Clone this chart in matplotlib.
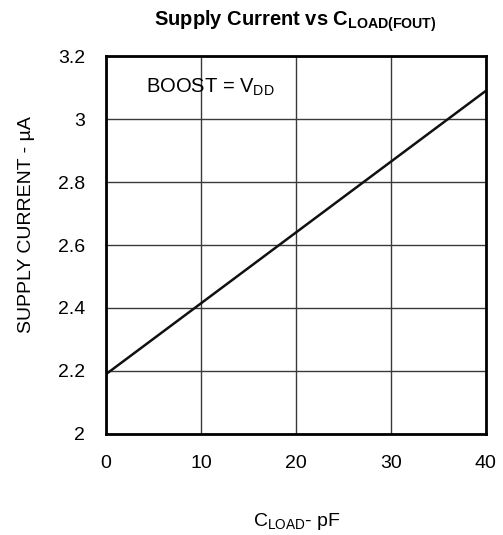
import matplotlib
matplotlib.use('Agg')
import matplotlib.pyplot as plt
import numpy as np

# curve
c_load = [0, 10, 20, 30, 40]
supply_current = [2.19, 2.415, 2.64, 2.865, 3.09]

x_ticks = [0, 10, 20, 30, 40]
y_ticks = [2, 2.2, 2.4, 2.6, 2.8, 3, 3.2]
y_tick_labels = ['2', '2.2', '2.4', '2.6', '2.8', '3', '3.2']

plt.rcParams['font.family'] = ['Liberation Sans', 'DejaVu Sans']
plt.rcParams['mathtext.fontset'] = 'custom'
plt.rcParams['mathtext.rm'] = 'Liberation Sans'
plt.rcParams['mathtext.it'] = 'Liberation Sans'
plt.rcParams['mathtext.bf'] = 'Liberation Sans:bold'

fig = plt.figure(figsize=(5.03, 5.35), dpi=100)
ax = fig.add_axes([0.211, 0.189, 0.755, 0.706])

ax.plot(c_load, supply_current, color='#111111', linewidth=1.8, solid_capstyle='butt')

ax.set_xlim(0, 40)
ax.set_ylim(2, 3.2)
ax.set_xticks(x_ticks)
ax.set_yticks(y_ticks)
ax.set_yticklabels(y_tick_labels)
ax.tick_params(axis='both', length=0, labelsize=14, colors='black')
ax.tick_params(axis='x', pad=15)
ax.tick_params(axis='y', pad=15)
ax.grid(True, color='#3a3a3a', linewidth=1.0)
ax.set_axisbelow(True)
for sp in ax.spines.values():
    sp.set_linewidth(2)
    sp.set_color('black')

ax.text(4.2, 3.1, r'BOOST = V$_{\mathregular{DD}}$', fontsize=14.5, ha='left', va='center')

fig.text(0.59, 1 - 521 / 535, r'C$_{\mathregular{LOAD}}$- pF', fontsize=14, ha='center', va='center')
fig.text(27 / 503, 1 - 225 / 535, 'SUPPLY CURRENT - µA', fontsize=14, rotation=90,
         ha='center', va='center')
fig.text(0.587, 1 - 21 / 535, r'Supply Current vs C$_{\mathbf{LOAD(FOUT)}}$', fontsize=14.5,
         fontweight='bold', ha='center', va='center')

fig.savefig('out.png', dpi=100)
